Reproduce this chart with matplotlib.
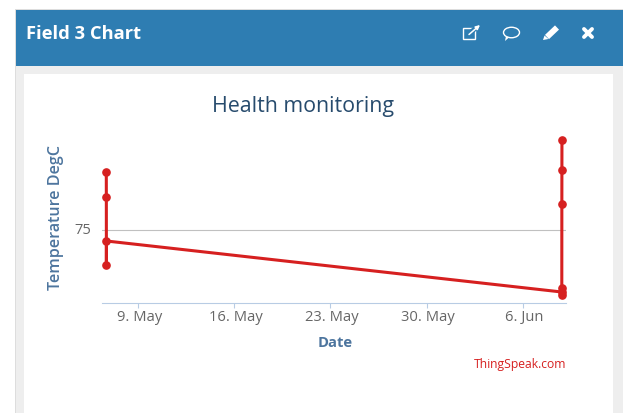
import matplotlib
matplotlib.use("Agg")
import matplotlib.pyplot as plt
import matplotlib.dates as mdates
from matplotlib.patches import Rectangle, Ellipse, Polygon
from matplotlib.transforms import ScaledTranslation
import pandas as pd

plt.rcParams['font.family'] = ['Open Sans', 'DejaVu Sans']

# readings, in the order the line goes through them
times = ["2021-05-06 16:30", "2021-05-06 16:35", "2021-05-06 16:40", "2021-05-06 16:45",
         "2021-06-08 20:00", "2021-06-08 20:05", "2021-06-08 20:10", "2021-06-08 20:15",
         "2021-06-08 20:20", "2021-06-08 20:25"]
temps = [104, 91.5, 57.5, 69.5, 44, 42.5, 46, 88, 105, 120]

tick_dates = ["2021-05-09", "2021-05-16", "2021-05-23", "2021-05-30", "2021-06-06"]
tick_labels = ["9. May", "16. May", "23. May", "30. May", "6. Jun"]
y_ticks = [75]

W, H = 626, 414
blue = "#2e7db2"
grey = "#eeeeee"

fig = plt.figure(figsize=(W / 100, H / 100), dpi=100, facecolor="white")

# page furniture, drawn in pixel coordinates
bg = fig.add_axes([0, 0, 1, 1])
bg.set_xlim(0, W)
bg.set_ylim(H - 1, -1)
bg.axis("off")
bg.add_patch(Rectangle((15, 9), 608, H, fc="#dddddd", ec="none"))
bg.add_patch(Rectangle((16, 66), 606.5, H, fc=grey, ec="none"))
bg.add_patch(Rectangle((16, 10), 606.5, 56, fc=blue, ec="none"))
bg.add_patch(Rectangle((24, 74), 589, H, fc="white", ec="none"))
bg.text(26.5, 33, "Field 3 Chart", color="white", fontsize=13.2, fontweight="bold", va="center",
        fontstretch="condensed")

# header icons
bg.add_patch(Rectangle((463, 28), 12, 11, fc="none", ec="white", lw=1))
bg.plot([469, 478], [34, 26], color=blue, lw=3.5, solid_capstyle="butt")
bg.annotate("", xy=(480, 25), xytext=(469, 34.5),
            arrowprops=dict(arrowstyle="-|>", color="white", lw=1.1, mutation_scale=6, shrinkA=0, shrinkB=0))
bg.add_patch(Ellipse((511.5, 32.5), 16, 10.5, fc="none", ec="white", lw=1))
bg.add_patch(Polygon([(506, 36), (509, 37.5), (505, 41)], fc="white", ec="none"))
bg.plot([547, 557], [37, 27.5], color="white", lw=4.2, solid_capstyle="butt")
bg.add_patch(Polygon([(543, 40), (544.5, 35.5), (548.5, 39)], fc="white", ec="none"))
bg.plot([584, 592], [29, 37], color="white", lw=2.8, solid_capstyle="round")
bg.plot([584, 592], [37, 29], color="white", lw=2.8, solid_capstyle="round")

# chart area
left, right, top, bottom = 102, 566, 131, 304
ax = fig.add_axes([left / W, 1 - bottom / H, (right - left) / W, (bottom - top) / H])
ax.patch.set_alpha(0)

x = pd.to_datetime(times)
ax.plot(x, temps, color="#d62020", lw=2.2, marker="o", ms=5.2, mec="#d62020", clip_on=False, zorder=3)

ax.set_xlim(mdates.datestr2num("2021-05-06 09:00"), mdates.datestr2num("2021-06-09 03:30"))
ax.set_ylim(38.5, 125)
ax.set_xticks(mdates.datestr2num(tick_dates))
ax.set_xticklabels(tick_labels)
ax.set_yticks(y_ticks)
ax.grid(axis="y", color="#c0c0c0", lw=0.8)
ax.set_axisbelow(True)

for s in ["top", "left", "right"]:
    ax.spines[s].set_visible(False)
ax.spines["bottom"].set_color("#b8cce4")
ax.spines["bottom"].set_linewidth(0.8)
ax.tick_params(axis="x", color="#b8cce4", length=3.6, width=0.8, labelcolor="#666666", labelsize=10.6, pad=1)
ax.tick_params(axis="y", length=0, labelcolor="#666666", labelsize=10.6, pad=7.5)

# the labels sit a little off their ticks in the original
for lab in ax.get_xticklabels():
    lab.set_transform(lab.get_transform() + ScaledTranslation(1.5 / 100, 0, fig.dpi_scale_trans))
for lab in ax.get_yticklabels():
    lab.set_transform(lab.get_transform() + ScaledTranslation(0, 3 / 100, fig.dpi_scale_trans))

bg.text(303, 106, "Health monitoring", color="#274b6d", fontsize=15.4, ha="center", va="center")
bg.text(56, 217, "Temperature DegC", color="#4d759e", fontsize=11.6, fontweight="semibold",
        rotation=90, ha="center", va="center")
bg.text(335, 342, "Date", color="#4d759e", fontsize=10.6, fontweight="bold", ha="center", va="center")
bg.text(566, 364, "ThingSpeak.com", color="#d62020", fontsize=8.7, ha="right", va="center")

fig.savefig("out.png", dpi=100)
